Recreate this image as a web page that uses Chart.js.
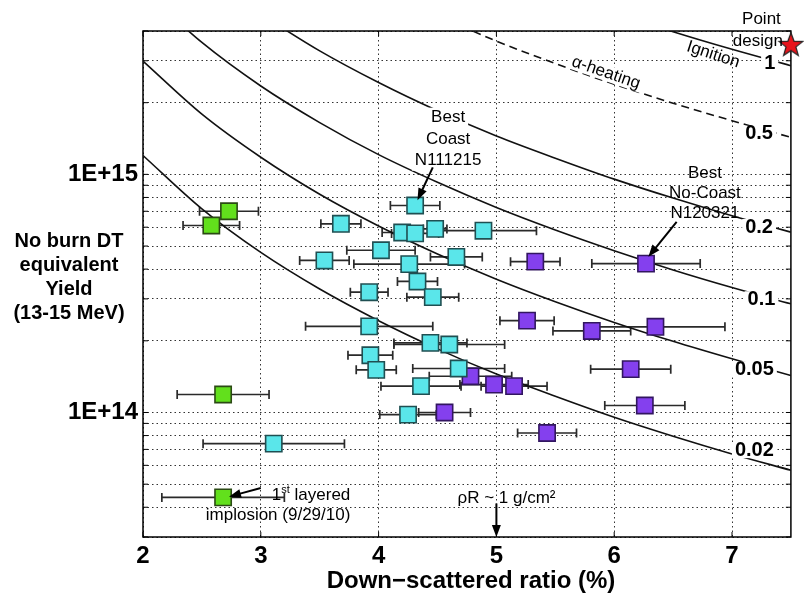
<!DOCTYPE html>
<html>
<head>
<meta charset="utf-8">
<script src="https://cdn.jsdelivr.net/npm/chart.js@4.4.1/dist/chart.umd.min.js"></script>
<style>
  html, body { margin: 0; padding: 0; background: #fff; }
</style>
</head>
<body>
<canvas id="myChart" width="804" height="595"></canvas>
<script>
const FONT = "'Liberation Sans', Arial, Helvetica, sans-serif";

// axes
const xTickValues = [2, 3, 4, 5, 6, 7];
const yGridValues = [3e13, 4e13, 5e13, 6e13, 7e13, 8e13, 9e13,
  1e14, 2e14, 3e14, 4e14, 5e14, 6e14, 7e14, 8e14, 9e14, 1e15, 2e15, 3e15, 4e15];
const yLabelValues = [1e14, 1e15];
const yLabelTexts = ['1E+14', '1E+15'];

// shots (DSR %, yield, +/- DSR error)
const greenX = [2.73, 2.58, 2.68, 2.68];
const greenY = [7.0e14, 6.1e14, 1.19e14, 4.4e13];
const greenErr = [0.25, 0.24, 0.39, 0.52];

const cyanX = [3.68, 4.31, 4.20, 4.31, 4.48, 4.89, 4.02, 3.54, 4.66, 4.26, 4.33,
  3.92, 4.46, 3.92, 4.44, 4.60, 3.93, 3.98, 4.68, 4.36, 4.25, 3.11];
const cyanY = [6.2e14, 7.4e14, 5.7e14, 5.65e14, 5.9e14, 5.8e14, 4.8e14, 4.35e14, 4.5e14, 4.2e14, 3.55e14,
  3.2e14, 3.05e14, 2.3e14, 1.96e14, 1.93e14, 1.74e14, 1.51e14, 1.53e14, 1.29e14, 9.8e13, 7.4e13];
const cyanErr = [0.17, 0.21, 0.17, 0.2, 0.1, 0.45, 0.29, 0.21, 0.22, 0.47, 0.17,
  0.16, 0.22, 0.54, 0.31, 0.47, 0.19, 0.17, 0.39, 0.34, 0.24, 0.6];

const purpleX = [5.33, 6.27, 5.26, 5.81, 6.35, 4.78, 4.98, 5.15, 6.14, 6.26, 4.56, 5.43];
const purpleY = [4.3e14, 4.22e14, 2.43e14, 2.2e14, 2.29e14, 1.42e14, 1.31e14, 1.29e14, 1.52e14, 1.07e14, 1.0e14, 8.2e13];
const purpleErr = [0.21, 0.46, 0.23, 0.33, 0.59, 0.35, 0.29, 0.28, 0.34, 0.34, 0.22, 0.25];

const pointDesignX = [7.5];
const pointDesignY = [3.5e15];

// ITFX contours
const curveX = [2, 2.5, 3, 3.5, 4, 4.5, 5, 5.5, 6, 6.5, 7, 7.5];
const itf002 = [1.20e15, 7.16e14, 4.70e14, 3.30e14, 2.43e14, 1.85e14, 1.45e14, 1.17e14, 9.55e13, 7.95e13, 6.70e13, 5.72e13];
const itf005 = [2.99e15, 1.79e15, 1.18e15, 8.25e14, 6.07e14, 4.63e14, 3.63e14, 2.92e14, 2.39e14, 1.99e14, 1.68e14, 1.43e14];
const itf01 = [5.98e15, 3.58e15, 2.35e15, 1.65e15, 1.21e15, 9.26e14, 7.26e14, 5.84e14, 4.78e14, 3.97e14, 3.35e14, 2.86e14];
const itf02 = [4.70e15, 3.30e15, 2.43e15, 1.85e15, 1.45e15, 1.17e15, 9.55e14, 7.95e14, 6.70e14, 5.72e14];
const itf05 = [4.63e15, 3.63e15, 2.92e15, 2.39e15, 1.99e15, 1.68e15, 1.43e15];
const itf1 = [4.78e15, 3.97e15, 3.35e15, 2.86e15];

const curveLabels = ['0.02', '0.05', '0.1', '0.2', '0.5', '1'];
const curveLabelX = [7.19, 7.19, 7.25, 7.23, 7.23, 7.32];
const curveLabelY = [6.95e13, 1.52e14, 2.99e14, 6.01e14, 1.48e15, 2.93e15];

function pts(xs, ys) {
  return xs.map((x, i) => ({x: x, y: ys[i]}));
}
function curve(vals) {
  const off = curveX.length - vals.length;
  return vals.map((v, i) => ({x: curveX[off + i], y: v}));
}

// filled red star for the point design
const star = document.createElement('canvas');
star.width = 28; star.height = 28;
const sc = star.getContext('2d');
sc.beginPath();
for (let i = 0; i < 10; i++) {
  const r = i % 2 ? 5.2 : 12.5;
  const a = -Math.PI / 2 + i * Math.PI / 5;
  sc.lineTo(14 + r * Math.cos(a), 14.5 + r * Math.sin(a));
}
sc.closePath();
sc.fillStyle = '#e8141c';
sc.fill();
sc.strokeStyle = '#222';
sc.lineWidth = 1.2;
sc.stroke();

function shots(data, err, fill, edge) {
  return {
    data: data, xErr: err, pointStyle: 'rect', pointRadius: 11.5,
    backgroundColor: fill, borderColor: edge, borderWidth: 1.6, order: 1
  };
}
function contour(data, dash) {
  return {
    data: data, showLine: true, pointRadius: 0, borderColor: '#111', borderWidth: 1.6,
    borderDash: dash || [], cubicInterpolationMode: 'monotone', order: 5
  };
}

function drawText(ctx, text, px, py, o) {
  ctx.save();
  ctx.translate(px, py);
  if (o.rot) ctx.rotate(o.rot * Math.PI / 180);
  ctx.font = o.font;
  ctx.textAlign = o.align || 'center';
  ctx.textBaseline = 'middle';
  if (o.bg) {
    const w = ctx.measureText(text).width;
    const h = o.bgH || 18;
    let x0 = -w / 2;
    if (o.align === 'left') x0 = 0;
    if (o.align === 'right') x0 = -w;
    ctx.fillStyle = '#fff';
    ctx.fillRect(x0 - 3, -h / 2, w + 6, h);
  }
  ctx.fillStyle = '#000';
  ctx.fillText(text, 0, 0);
  ctx.restore();
}

function arrow(ctx, x1, y1, x2, y2) {
  const ang = Math.atan2(y2 - y1, x2 - x1);
  const L = 12, W = 4.5;
  const c = Math.cos(ang), s = Math.sin(ang);
  ctx.save();
  ctx.strokeStyle = '#000';
  ctx.fillStyle = '#000';
  ctx.lineWidth = 2;
  ctx.beginPath();
  ctx.moveTo(x1, y1);
  ctx.lineTo(x2 - c * L * 0.8, y2 - s * L * 0.8);
  ctx.stroke();
  ctx.beginPath();
  ctx.moveTo(x2, y2);
  ctx.lineTo(x2 - c * L - s * W, y2 - s * L + c * W);
  ctx.lineTo(x2 - c * L + s * W, y2 - s * L - c * W);
  ctx.closePath();
  ctx.fill();
  ctx.restore();
}

const decor = {
  id: 'decor',
  beforeDatasetsDraw(chart) {
    const {ctx, chartArea: a, scales: {x, y}} = chart;
    // error bars
    ctx.save();
    ctx.strokeStyle = '#2a2a2a';
    ctx.lineWidth = 1.7;
    chart.data.datasets.forEach(ds => {
      if (!ds.xErr) return;
      ds.data.forEach((p, i) => {
        const py = y.getPixelForValue(p.y);
        const x1 = x.getPixelForValue(p.x - ds.xErr[i]);
        const x2 = x.getPixelForValue(p.x + ds.xErr[i]);
        ctx.beginPath();
        ctx.moveTo(x1, py); ctx.lineTo(x2, py);
        ctx.moveTo(x1, py - 4.5); ctx.lineTo(x1, py + 4.5);
        ctx.moveTo(x2, py - 4.5); ctx.lineTo(x2, py + 4.5);
        ctx.stroke();
      });
    });
    ctx.restore();

    // frame and inward ticks
    ctx.save();
    ctx.strokeStyle = '#000';
    ctx.lineWidth = 1.5;
    ctx.strokeRect(a.left, a.top, a.right - a.left, a.bottom - a.top);
    ctx.lineWidth = 1;
    ctx.beginPath();
    yGridValues.forEach(v => {
      const py = y.getPixelForValue(v);
      ctx.moveTo(a.left, py); ctx.lineTo(a.left + 5, py);
      ctx.moveTo(a.right, py); ctx.lineTo(a.right - 5, py);
    });
    xTickValues.forEach(v => {
      const px = x.getPixelForValue(v);
      ctx.moveTo(px, a.bottom); ctx.lineTo(px, a.bottom - 5);
      ctx.moveTo(px, a.top); ctx.lineTo(px, a.top + 5);
    });
    ctx.stroke();
    ctx.restore();
  },
  afterDatasetsDraw(chart) {
    const {ctx, scales: {x, y}} = chart;
    const X = v => x.getPixelForValue(v);
    const Y = v => y.getPixelForValue(v);
    const reg = '17px ' + FONT;

    // contour values on the right
    curveLabels.forEach((t, i) => {
      drawText(ctx, t, X(curveLabelX[i]), Y(curveLabelY[i]),
        {font: 'bold 20px ' + FONT, bg: true, bgH: 16});
    });

    drawText(ctx, 'Ignition', X(6.84), Y(3.18e15), {font: reg, rot: 18});
    drawText(ctx, '\u03b1-heating', X(5.93), Y(2.67e15), {font: reg, rot: 19, bg: true, bgH: 16});
    drawText(ctx, 'Point', X(7.25), Y(4.47e15), {font: reg});
    drawText(ctx, 'design', X(7.22), Y(3.62e15), {font: reg});

    // best coast
    const bc = ['Best', 'Coast', 'N111215'];
    bc.forEach((t, i) => drawText(ctx, t, X(4.59), Y(1.73e15) + i * 21.5, {font: reg, bg: true, bgH: 20}));
    arrow(ctx, X(4.46), Y(1.07e15), X(4.33), Y(7.79e14));

    // best no-coast
    const bn = ['Best', 'No-Coast', 'N120321'];
    bn.forEach((t, i) => drawText(ctx, t, X(6.77), Y(1.01e15) + i * 20, {font: reg}));
    arrow(ctx, X(6.53), Y(6.31e14), X(6.29), Y(4.51e14));

    // first layered implosion
    ctx.save();
    ctx.font = reg;
    const rx = X(3.76), ly = Y(4.51e13);
    const wL = ctx.measureText(' layered').width;
    ctx.font = '11px ' + FONT;
    const wS = ctx.measureText('st').width;
    ctx.font = reg;
    const w1 = ctx.measureText('1').width;
    ctx.textBaseline = 'middle';
    ctx.textAlign = 'left';
    ctx.fillStyle = '#000';
    const x0 = rx - wL - wS - w1;
    ctx.fillText('1', x0, ly);
    ctx.fillText(' layered', x0 + w1 + wS, ly);
    ctx.font = '11px ' + FONT;
    ctx.fillText('st', x0 + w1, ly - 5);
    ctx.restore();
    drawText(ctx, 'implosion (9/29/10)', rx, Y(3.69e13), {font: reg, align: 'right'});
    arrow(ctx, X(3.0), Y(4.82e13), X(2.73), Y(4.43e13));

    // rho R marker
    drawText(ctx, '\u03c1R ~ 1 g/cm\u00b2', X(4.67), Y(4.38e13), {font: reg, align: 'left'});
    arrow(ctx, X(5.0), Y(4.15e13), X(5.0), Y(3e13));

    // axis titles
    const yt = ['No burn DT', 'equivalent', 'Yield', '(13-15 MeV)'];
    yt.forEach((t, i) => drawText(ctx, t, 69, 241 + i * 24.2, {font: 'bold 20px ' + FONT}));
    drawText(ctx, 'Down\u2212scattered ratio (%)', 471, 581, {font: 'bold 24px ' + FONT});
  }
};

const ctx = document.getElementById('myChart').getContext('2d');

new Chart(ctx, {
  type: 'scatter',
  data: {
    datasets: [
      shots(pts(greenX, greenY), greenErr, '#62e01c', '#2b4a14'),
      shots(pts(cyanX, cyanY), cyanErr, '#5ae6ea', '#1f4f52'),
      shots(pts(purpleX, purpleY), purpleErr, '#8440ee', '#321660'),
      {
        data: pts(pointDesignX, pointDesignY), pointStyle: star, pointRadius: 12,
        clip: false, order: 0
      },
      contour(curve(itf002)),
      contour(curve(itf005)),
      contour(curve(itf01)),
      contour(curve(itf02)),
      contour(curve(itf05), [8, 5]),
      contour(curve(itf1))
    ]
  },
  options: {
    responsive: false,
    animation: false,
    events: [],
    layout: {
      padding: {left: 0, right: 9, top: 31, bottom: 0}
    },
    plugins: {
      legend: {display: false},
      tooltip: {enabled: false}
    },
    scales: {
      x: {
        type: 'linear',
        min: 2,
        max: 7.5,
        afterBuildTicks: s => { s.ticks = xTickValues.map(v => ({value: v})); },
        afterFit: s => { s.height = 58; },
        grid: {color: 'rgba(0,0,0,0.8)', lineWidth: 1, drawTicks: false},
        border: {display: false, dash: [1.5, 3]},
        ticks: {
          color: '#000', padding: 5, autoSkip: false, maxRotation: 0,
          font: {family: FONT, size: 24, weight: 'bold'},
          callback: v => String(v)
        }
      },
      y: {
        type: 'logarithmic',
        min: 3e13,
        max: 4e15,
        afterBuildTicks: s => { s.ticks = yGridValues.map(v => ({value: v})); },
        afterFit: s => { s.width = 143; },
        grid: {color: 'rgba(0,0,0,0.8)', lineWidth: 1, drawTicks: false},
        border: {display: false, dash: [1.5, 3]},
        ticks: {
          color: '#000', padding: 5, autoSkip: false,
          font: {family: FONT, size: 24, weight: 'bold'},
          callback: v => {
            const k = yLabelValues.indexOf(v);
            return k >= 0 ? yLabelTexts[k] : '';
          }
        }
      }
    }
  },
  plugins: [decor]
});
</script>
</body>
</html>
